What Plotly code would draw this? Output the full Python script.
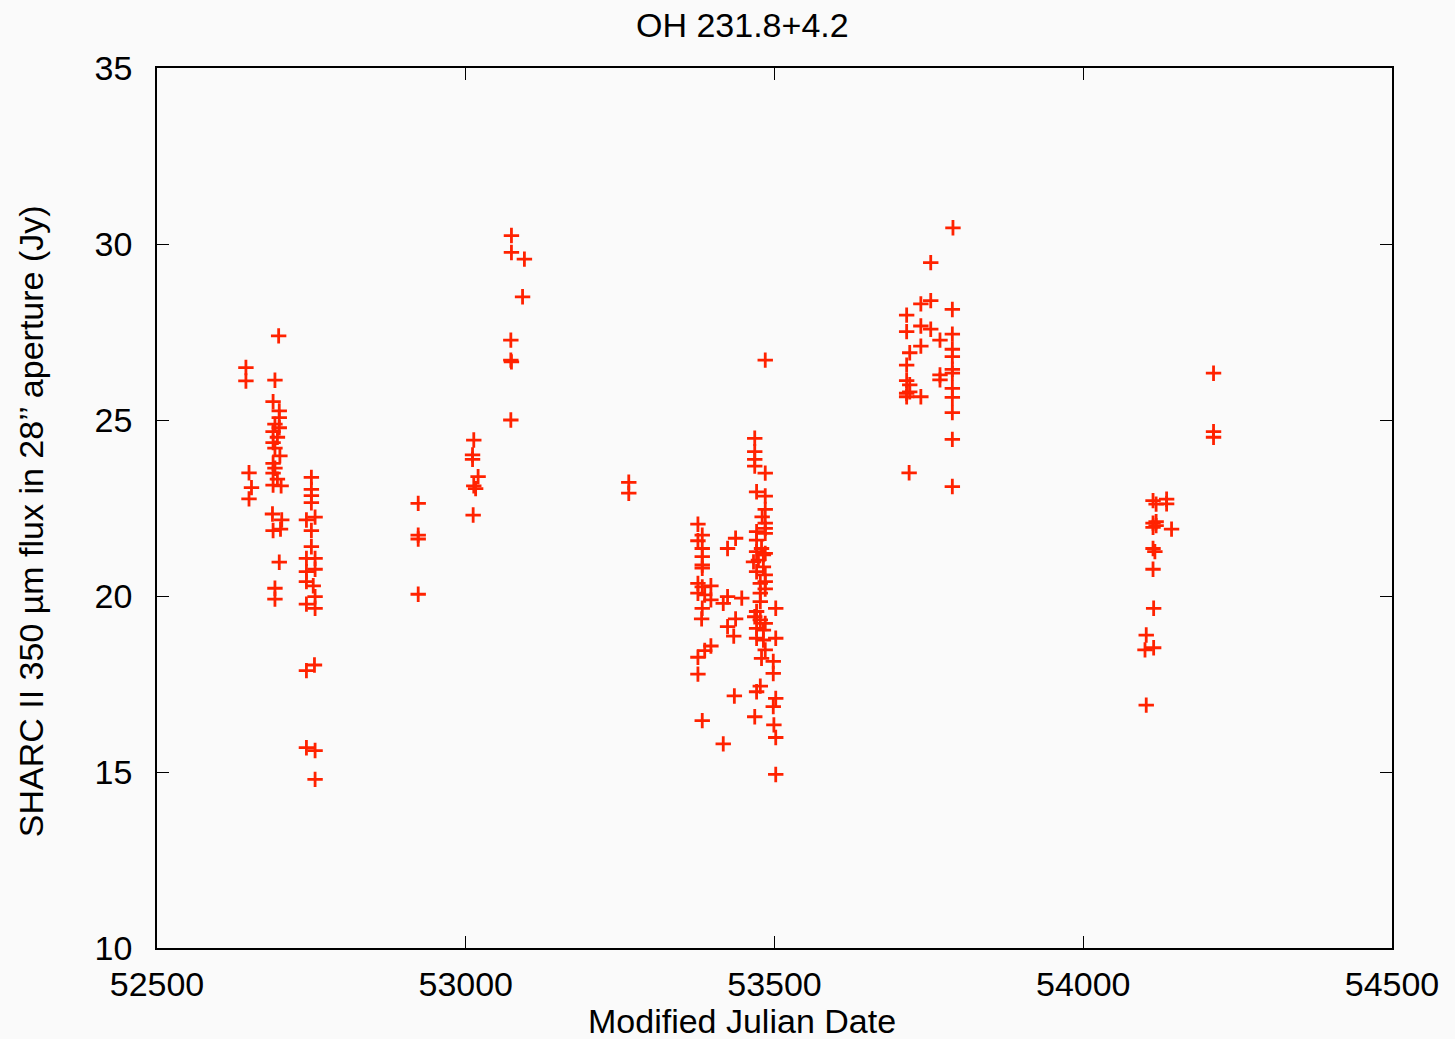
import plotly.graph_objects as go

title_text = "OH 231.8+4.2"
x_label = "Modified Julian Date"
y_label = "SHARC II 350 µm flux in 28’’ aperture (Jy)"

mjd = [
    # cluster ~52650-52760
    52697, 52644, 52644, 52691, 52688, 52698, 52698, 52691, 52698, 52688,
    52695, 52688, 52691, 52699, 52688, 52691, 52688, 52695, 52688, 52701,
    52649, 52653, 52649, 52687, 52702, 52688, 52700, 52698, 52691, 52691,
    52750, 52750, 52750, 52750, 52742, 52756, 52750, 52750, 52742, 52756,
    52756, 52742, 52742, 52753, 52756, 52742, 52756, 52755, 52742, 52742,
    52756, 52756,
    # ~52923
    52923, 52923, 52923, 52923,
    # ~53015
    53013, 53011, 53011, 53020, 53013, 53016, 53012,
    # ~53075
    53074, 53074, 53095, 53092, 53073, 53073, 53074, 53073,
    # ~53264
    53264, 53264,
    # ~53380 left
    53376, 53383, 53376, 53383, 53383, 53383, 53383, 53376, 53383, 53397,
    53376, 53387, 53397, 53383, 53382, 53397, 53387, 53376, 53376, 53383,
    # middle
    53437, 53424, 53424, 53417, 53437, 53424, 53434, 53435, 53417, 53447,
    # right ~53470-53504
    53468, 53468, 53468, 53468, 53485, 53471, 53485, 53485, 53480, 53485,
    53485, 53471, 53485, 53471, 53479, 53471, 53485, 53482, 53474, 53466,
    53482, 53471, 53485, 53485, 53477, 53485, 53477, 53477, 53502, 53471,
    53468, 53477, 53485, 53471, 53482, 53471, 53482, 53502, 53485, 53479,
    53498, 53498, 53477, 53471, 53502, 53498, 53468, 53499, 53502, 53502,
    53485,
    # ~53714-53789
    53789, 53753, 53737, 53753, 53714, 53788, 53737, 53753, 53714, 53788,
    53768, 53737, 53719, 53788, 53788, 53714, 53788, 53788, 53768, 53768,
    53714, 53719, 53788, 53714, 53719, 53714, 53737, 53788, 53788, 53788,
    53718, 53788,
    # ~54100-54211
    54211, 54211, 54211, 54113, 54135, 54118, 54135, 54113, 54118, 54113,
    54143, 54118, 54113, 54116, 54113, 54114, 54102, 54100, 54114, 54102,
]

flux = [
    27.39, 26.49, 26.11, 26.13, 25.52, 25.26, 25.07, 24.88, 24.78, 24.67,
    24.51, 24.36, 24.20, 23.98, 23.77, 23.63, 23.49, 23.32, 23.15, 23.13,
    23.50, 23.08, 22.76, 22.33, 22.16, 21.86, 21.90, 20.96, 20.22, 19.91,
    23.37, 23.03, 22.85, 22.65, 22.16, 22.24, 21.86, 21.40, 21.07, 21.07,
    20.76, 20.69, 20.41, 20.29, 19.98, 19.77, 19.65, 18.04, 17.88, 15.69,
    15.61, 14.79,
    22.63, 21.73, 21.62, 20.05,
    24.43, 24.01, 23.88, 23.39, 23.13, 23.05, 22.30,
    30.24, 29.76, 29.57, 28.50, 27.27, 26.70, 26.65, 25.00,
    23.23, 22.92,
    22.04, 21.73, 21.57, 21.35, 21.12, 20.88, 20.79, 20.36, 20.26, 20.29,
    20.08, 20.03, 19.89, 19.65, 19.35, 18.58, 18.45, 18.26, 17.78, 16.46,
    21.64, 21.35, 19.98, 19.79, 19.35, 19.13, 18.86, 17.16, 15.80, 19.94,
    24.48, 24.10, 23.88, 23.69, 23.49, 22.96, 22.84, 22.46, 22.25, 22.07,
    21.92, 21.83, 21.78, 21.59, 21.35, 21.26, 21.21, 21.17, 21.02, 20.97,
    20.83, 20.69, 20.60, 20.41, 20.36, 20.20, 20.08, 19.84, 19.65, 19.56,
    19.41, 19.32, 19.22, 19.08, 19.03, 18.80, 18.75, 18.80, 18.47, 18.23,
    18.14, 17.80, 17.44, 17.28, 17.09, 16.86, 16.57, 16.34, 15.98, 14.93,
    26.70,
    30.46, 29.47, 28.30, 28.39, 27.98, 28.14, 27.67, 27.58, 27.51, 27.44,
    27.27, 27.10, 26.91, 27.01, 26.80, 26.56, 26.44, 26.33, 26.28, 26.14,
    26.12, 26.00, 25.90, 25.76, 25.80, 25.66, 25.66, 25.64, 25.21, 24.45,
    23.50, 23.11,
    26.33, 24.67, 24.51, 22.71, 22.75, 22.61, 22.62, 22.07, 22.11, 21.95,
    21.90, 22.00, 21.35, 21.26, 20.76, 19.65, 18.89, 18.47, 18.53, 16.90,
]

x_ticks = [52500, 53000, 53500, 54000, 54500]
x_tick_labels = ["52500", "53000", "53500", "54000", "54500"]
y_ticks = [10, 15, 20, 25, 30, 35]
y_tick_labels = ["10", "15", "20", "25", "30", "35"]

font_family = "Liberation Sans, Arial, sans-serif"
fsize = 34
tfont = dict(size=fsize, color="black", family=font_family)

fig = go.Figure()
fig.add_trace(go.Scatter(
    x=mjd, y=flux, mode="markers",
    marker=dict(symbol="cross-thin", size=11, color="#ff2200",
                line=dict(color="#ff2200", width=2.8)),
    showlegend=False,
))

axis_common = dict(
    showgrid=False, zeroline=False, showline=True, linecolor="black",
    linewidth=1.5, mirror="ticks", ticks="inside", ticklen=12, tickwidth=1.2,
    tickcolor="black", tickfont=tfont, automargin=False,
)

fig.update_layout(
    width=1455, height=1039,
    margin=dict(l=157, r=63, t=68, b=91),
    paper_bgcolor="#fafafa", plot_bgcolor="#fafafa",
    xaxis=dict(range=[52500, 54500], tickvals=x_ticks, ticktext=x_tick_labels,
               ticklabelstandoff=5, **axis_common),
    yaxis=dict(range=[10, 35], tickvals=y_ticks, ticktext=y_tick_labels,
               ticklabelstandoff=16, **axis_common),
    annotations=[
        dict(text=title_text, xref="paper", yref="paper", x=0.4737, y=1.049,
             xanchor="center", yanchor="middle", showarrow=False, font=tfont),
        dict(text=x_label, xref="paper", yref="paper", x=0.4737, y=-0.0830,
             xanchor="center", yanchor="middle", showarrow=False, font=tfont),
        dict(text=y_label, xref="paper", yref="paper", x=-0.102, y=0.485,
             xanchor="center", yanchor="middle", showarrow=False, font=tfont,
             textangle=-90),
    ],
)

fig.write_html("out.html")
